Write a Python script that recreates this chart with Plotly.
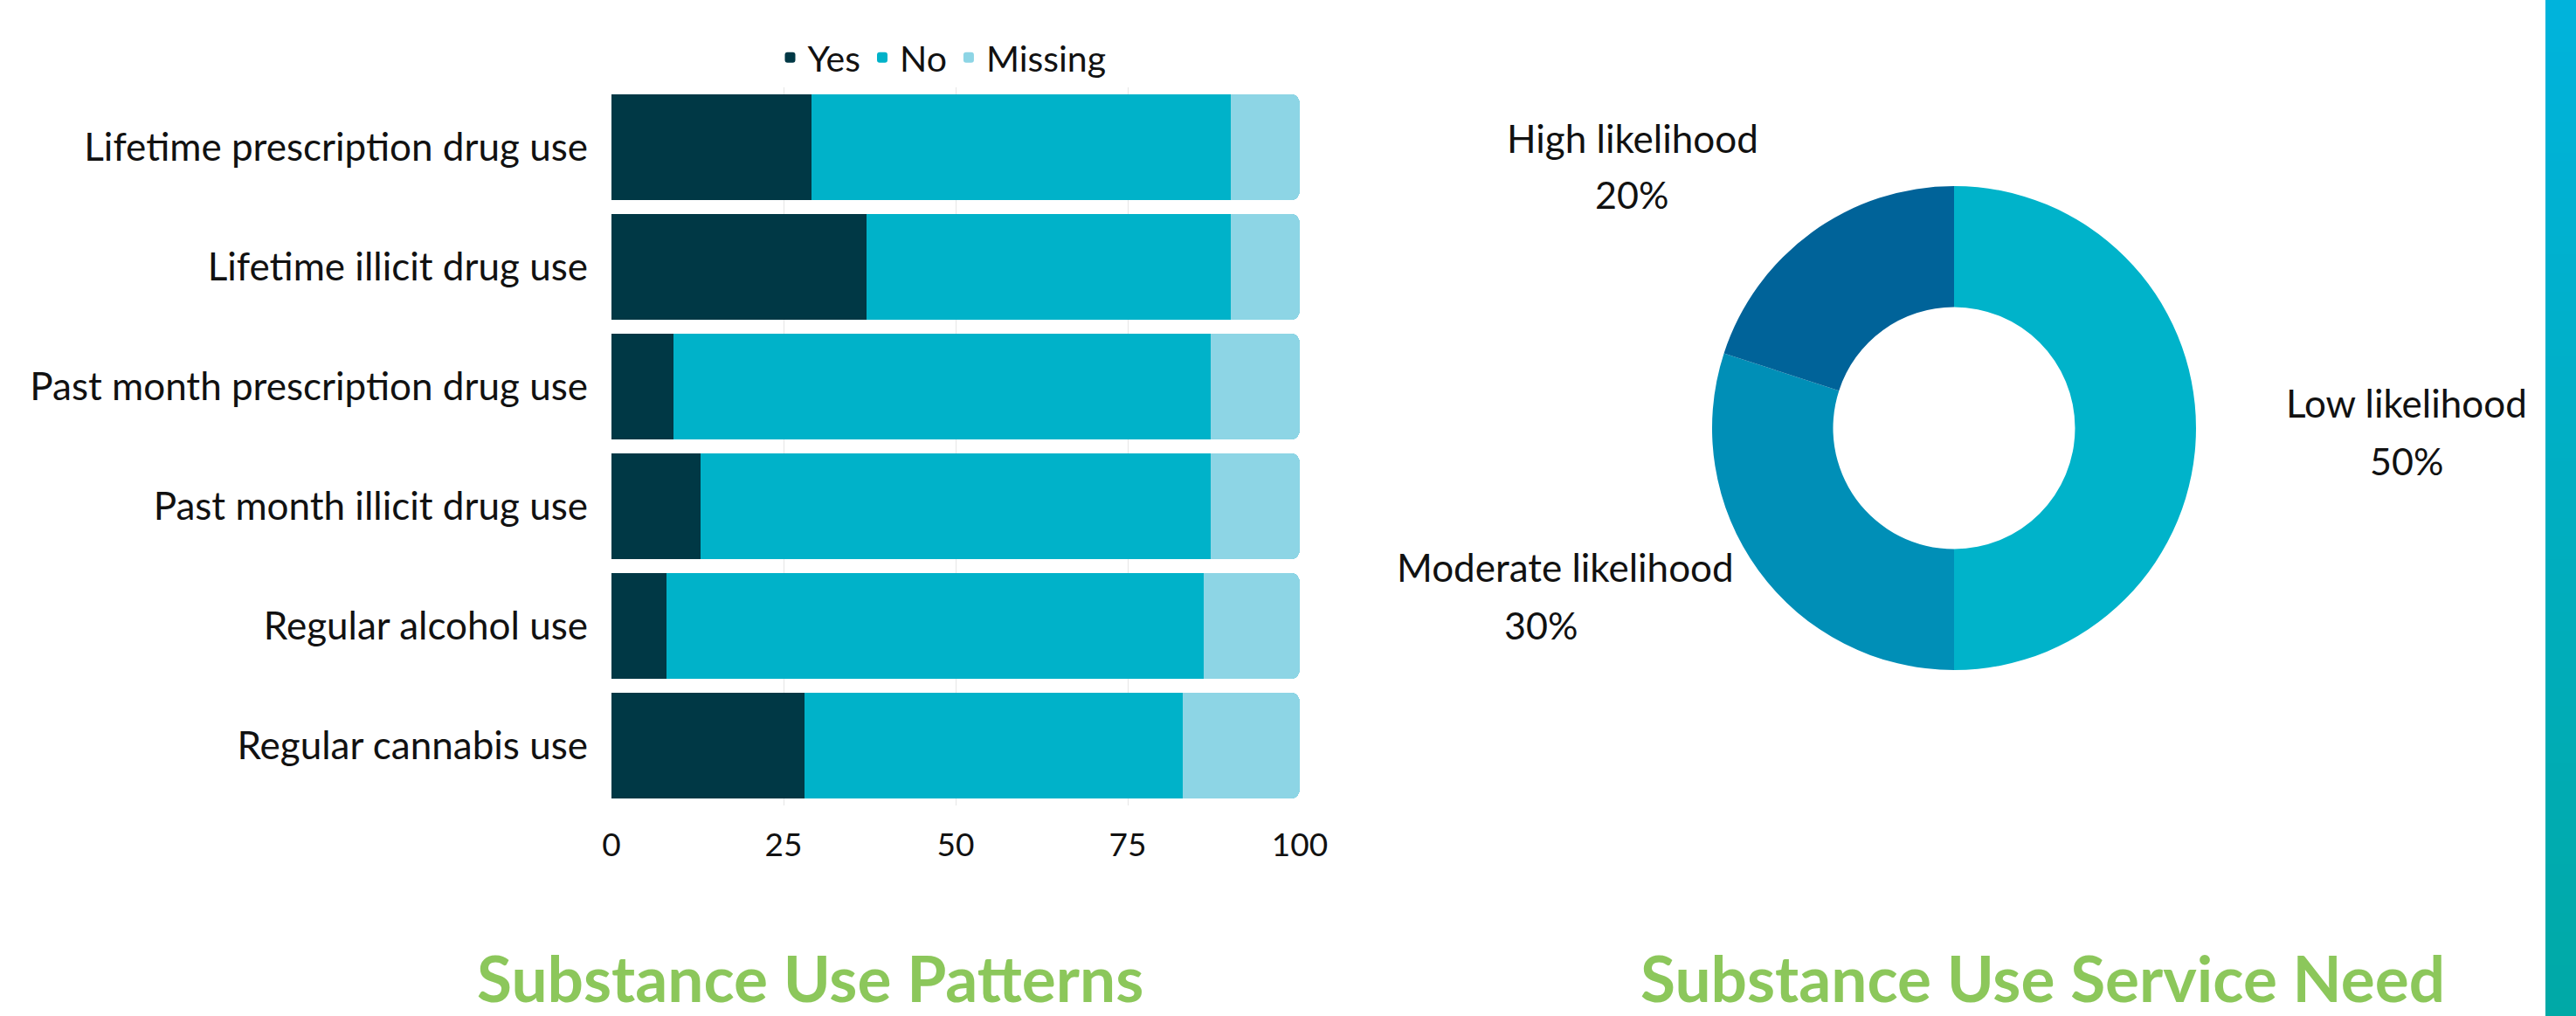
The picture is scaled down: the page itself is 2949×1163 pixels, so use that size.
import plotly.graph_objects as go

W, H = 2949, 1163

# ---------------- data ----------------
categories = [
    "Lifetime prescription drug use",
    "Lifetime illicit drug use",
    "Past month prescription drug use",
    "Past month illicit drug use",
    "Regular alcohol use",
    "Regular cannabis use",
]
yes_vals = [29, 37, 9, 13, 8, 28]
no_vals = [61, 53, 78, 74, 78, 55]
missing_vals = [10, 10, 13, 13, 14, 17]
series_names = ["Yes", "No", "Missing"]
x_ticks = [0, 25, 50, 75, 100]

need_labels = ["Low likelihood", "Moderate likelihood", "High likelihood"]
need_values = [50, 30, 20]

title_left = "Substance Use Patterns"
title_right = "Substance Use Service Need"

# ---------------- styles ----------------
FONT = "Lato"
bar_colors = ["#003845", "#00B2C9", "#8DD5E5"]
pie_colors = ["#00B3CA", "#008FB7", "#006399"]
GREEN = "#8CC75B"
TXT = "#111111"

def px(xp):
    return xp / W

def py(yp):
    return 1 - yp / H

fig = go.Figure()

for name, vals, col in zip(series_names, [yes_vals, no_vals, missing_vals], bar_colors):
    fig.add_trace(go.Bar(
        y=categories, x=vals, name=name, orientation="h",
        marker=dict(color=col, line=dict(width=0)),
        xaxis="x", yaxis="y", hoverinfo="x+y+name",
    ))

fig.add_trace(go.Pie(
    labels=need_labels, values=need_values, hole=0.5, sort=False,
    direction="clockwise", rotation=0,
    marker=dict(colors=pie_colors, line=dict(width=0)),
    textinfo="none", showlegend=False,
    domain=dict(x=[px(1960), px(2514)], y=[py(767), py(213)]),
))

# right gradient stripe
fig.add_trace(go.Heatmap(
    z=[[0, 0], [1, 1]], x=[0, 1], y=[0, 1], zsmooth="best",
    colorscale=[[0, "#00A9A6"], [1, "#00B3DC"]], showscale=False,
    xaxis="x2", yaxis="y2", hoverinfo="skip",
))

fig.update_layout(
    width=W, height=H, autosize=False,
    margin=dict(l=0, r=0, t=0, b=0, pad=0, autoexpand=False),
    paper_bgcolor="white", plot_bgcolor="white",
    barmode="stack", bargap=0.11, barcornerradius=10,
    font=dict(family=FONT, size=40, color=TXT),
    legend=dict(
        orientation="h", traceorder="normal",
        x=px(1078), xanchor="center", y=py(66), yanchor="middle",
        font=dict(family=FONT, size=41, color=TXT),
        itemwidth=30, tracegroupgap=0,
        bgcolor="rgba(0,0,0,0)",
    ),
    xaxis=dict(
        domain=[px(700), px(1488)], range=[0, 100], tickvals=x_ticks,
        showgrid=True, gridcolor="#E6E6E6", gridwidth=1, zeroline=False,
        showline=False, ticks="", ticklabelstandoff=20, automargin=False,
        tickfont=dict(family=FONT, size=37, color=TXT),
        anchor="y", fixedrange=True,
    ),
    yaxis=dict(
        domain=[py(922), py(100)], autorange="reversed",
        categoryorder="array", categoryarray=categories,
        showgrid=False, zeroline=False, showline=False, ticks="",
        ticklabelstandoff=26, automargin=False,
        tickfont=dict(family=FONT, size=44, color=TXT),
        anchor="x", fixedrange=True,
    ),
    xaxis2=dict(domain=[px(2914), 1], range=[0, 1], visible=False, anchor="y2",
                automargin=False),
    yaxis2=dict(domain=[0, 1], range=[0, 1], visible=False, anchor="x2",
                automargin=False),
)

# donut labels
label_pos = {
    "Low likelihood": ((2755, 461), (2755, 527)),
    "Moderate likelihood": ((1792, 649), (1764, 715)),
    "High likelihood": ((1869, 158), (1868, 222)),
}
for lab, val in zip(need_labels, need_values):
    (lx, ly), (vx, vy) = label_pos[lab]
    fig.add_annotation(text=lab, x=px(lx), y=py(ly), xref="paper", yref="paper",
                       showarrow=False, xanchor="center", yanchor="middle",
                       font=dict(family=FONT, size=44, color=TXT))
    fig.add_annotation(text=f"{val}%", x=px(vx), y=py(vy), xref="paper", yref="paper",
                       showarrow=False, xanchor="center", yanchor="middle",
                       font=dict(family=FONT, size=43, color=TXT))

for t, xc in [(title_left, 927), (title_right, 2338)]:
    fig.add_annotation(text=f"<b>{t}</b>", x=px(xc), y=py(1119), xref="paper", yref="paper",
                       showarrow=False, xanchor="center", yanchor="middle",
                       font=dict(family=FONT, size=73, color=GREEN))

fig.write_html(
    "out.html",
    config={"responsive": False, "displayModeBar": False},
    post_script=(
        "document.documentElement.style.margin='0';"
        "document.body.style.margin='0';"
        "document.documentElement.style.overflow='hidden';"
        "document.body.style.overflow='hidden';"
    ),
)
